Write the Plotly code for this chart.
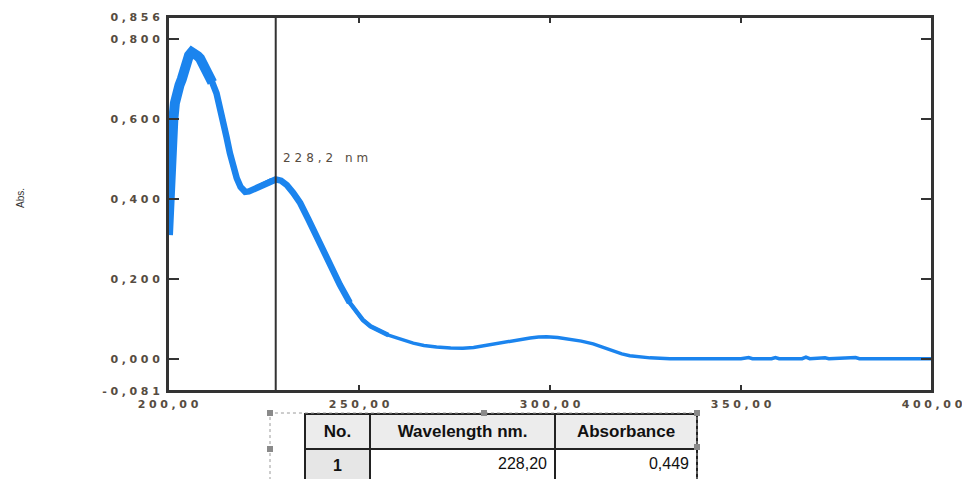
import plotly.graph_objects as go

# UV-Vis absorbance spectrum (wavelength in nm, absorbance)
wavelength = [200.0, 200.3, 200.6, 201.0, 201.4, 201.8, 202.3, 203.0, 203.6, 204.3,
              204.9, 205.5, 206.2, 207.0, 207.8, 208.4, 209.5, 210.6, 211.6, 212.7,
              213.6, 214.4, 215.3, 216.2, 217.1, 218.0, 219.0, 220.2, 221.2, 222.3,
              223.8, 225.4, 226.8, 228.2, 229.6, 231.1, 232.8, 234.6, 236.7, 238.9,
              241.0, 243.2, 245.0, 247.6, 249.3, 251.0, 253.0, 255.5, 257.7, 259.9,
              262.0, 264.2, 267.0, 270.3, 274.0, 277.2, 280.0, 282.5, 285.5, 288.7,
              291.7, 294.8, 297.0, 299.1, 302.0, 305.2, 308.2, 311.3, 314.0, 316.6,
              318.8, 320.9, 323.5, 326.2, 331.4, 340.0, 350.0, 352.0, 353.0, 358.0,
              359.0, 360.0, 366.0, 367.0, 368.0, 372.0, 373.0, 380.0, 381.0, 400.0]
absorbance = [0.310, 0.400, 0.500, 0.550, 0.600, 0.640, 0.670, 0.685, 0.700, 0.725,
              0.745, 0.760, 0.768, 0.765, 0.758, 0.752, 0.735, 0.715, 0.692, 0.665,
              0.632, 0.598, 0.556, 0.515, 0.480, 0.452, 0.430, 0.418, 0.419, 0.424,
              0.432, 0.440, 0.446, 0.449, 0.446, 0.435, 0.415, 0.390, 0.350, 0.306,
              0.262, 0.222, 0.185, 0.140, 0.118, 0.097, 0.081, 0.068, 0.059, 0.052,
              0.045, 0.039, 0.033, 0.029, 0.027, 0.026, 0.028, 0.032, 0.037, 0.043,
              0.048, 0.052, 0.054, 0.055, 0.053, 0.049, 0.044, 0.037, 0.028, 0.018,
              0.012, 0.0075, 0.004, 0.002, 0.000, 0.000, 0.000, 0.003, 0.000, 0.000,
              0.003, 0.000, 0.000, 0.004, 0.000, 0.002, 0.000, 0.003, 0.000, 0.000]

# Peak pick result
peak_nm = 228.2
peak_label = "228,2 nm"
table_header = ["No.", "Wavelength nm.", "Absorbance"]
table_row = ["1", "228,20", "0,449"]

# Axis ticks
x_ticks = [200, 250, 300, 350, 400]
x_ticktext = ["200,00", "250,00", "300,00", "350,00", "400,00"]
y_min, y_max = -0.081, 0.856
y_ticks = [-0.081, 0.0, 0.2, 0.4, 0.6, 0.8, 0.856]
y_ticktext = ["-0,081", "0,000", "0,200", "0,400", "0,600", "0,800", "0,856"]

W, H = 962, 479
PL, PR, PT, PB = 168, 932, 17, 391  # plot box in pixels


def px_x(p):
    return p / W


def px_y(p):
    return 1 - p / H


def spaced(s):
    return "\u2004".join(s)


BLUE = "#1b84ee"
LABEL_COLOR = "#564c41"
AXIS_COLOR = "#333333"
TICK_FONT = dict(family="DejaVu Sans", size=11, color=LABEL_COLOR, weight="bold")

fig = go.Figure()

# Base spectrum line
fig.add_trace(go.Scatter(x=wavelength, y=absorbance, mode="lines",
                         line=dict(color=BLUE, width=3.5), hoverinfo="skip",
                         showlegend=False))

# Noisy low-wavelength part drawn progressively heavier
for upto, lw in [(256, 4.5), (246, 6.5), (211, 10)]:
    n = next(i for i, w in enumerate(wavelength) if w >= upto)
    fig.add_trace(go.Scatter(x=wavelength[:n + 1], y=absorbance[:n + 1], mode="lines",
                             line=dict(color=BLUE, width=lw), hoverinfo="skip",
                             showlegend=False))

# Result table
fig.add_trace(go.Table(
    domain=dict(x=[px_x(305), px_x(697)], y=[0, px_y(414)]),
    columnwidth=[65, 185, 142],
    header=dict(values=["<b>%s</b>" % h for h in table_header],
                fill_color="#ececec", align="center",
                line=dict(color="#222222", width=2), height=33,
                font=dict(family="Liberation Sans", size=17, color="#111111")),
    cells=dict(values=[["<b>%s</b>" % table_row[0]], [table_row[1]], [table_row[2]]],
               fill_color=[["#e6e6e6"], ["white"], ["white"]],
               align=["center", "right", "right"],
               line=dict(color="#222222", width=2), height=29,
               font=dict(family="Liberation Sans", size=16, color="#111111")),
))

shapes = [
    # plot frame
    dict(type="rect", xref="x domain", yref="y domain", x0=0, x1=1, y0=0, y1=1,
         line=dict(color=AXIS_COLOR, width=2), layer="above"),
    # peak marker line
    dict(type="line", xref="x", yref="y domain", x0=peak_nm, x1=peak_nm, y0=0, y1=1,
         line=dict(color=AXIS_COLOR, width=2)),
    # dashed selection frame around the table
    dict(type="rect", xref="paper", yref="paper", x0=px_x(270), x1=px_x(697),
         y0=-0.05, y1=px_y(413), line=dict(color="#9a9a9a", width=1, dash="dot")),
]
for hx, hy in [(270, 413), (484, 413), (697, 413), (270, 449), (697, 447)]:
    shapes.append(dict(type="rect", xref="paper", yref="paper",
                       x0=px_x(hx - 3), x1=px_x(hx + 3), y0=px_y(hy + 3), y1=px_y(hy - 3),
                       fillcolor="#8a8a8a", line=dict(width=0)))

axis_common = dict(showgrid=False, zeroline=False, showline=True, linecolor=AXIS_COLOR,
                   linewidth=2, mirror="allticks", ticks="inside", tickcolor=AXIS_COLOR,
                   tickwidth=1.5, tickfont=TICK_FONT, automargin=False,
                   ticklabeloverflow="allow")

fig.update_layout(
    template="none",
    width=W, height=H,
    margin=dict(l=0, r=0, t=0, b=0, pad=0),
    paper_bgcolor="white", plot_bgcolor="white",
    showlegend=False,
    xaxis=dict(domain=[px_x(PL), px_x(PR)], range=[200, 400], tickvals=x_ticks,
               ticktext=[spaced(t) for t in x_ticktext], ticklen=6,
               ticklabelstandoff=2, **axis_common),
    yaxis=dict(domain=[px_y(PB), px_y(PT)], range=[y_min, y_max], tickvals=y_ticks,
               ticktext=[spaced(t) for t in y_ticktext], ticklen=11,
               ticklabelstandoff=4, **axis_common),
    shapes=shapes,
    annotations=[
        dict(text=spaced(peak_label), x=peak_nm + 1.4, y=0.5025, xref="x", yref="y",
             xanchor="left", yanchor="middle", showarrow=False,
             font=dict(family="DejaVu Sans", size=12, color=LABEL_COLOR)),
        dict(text="Abs.", x=px_x(20), y=px_y(198), xref="paper", yref="paper",
             textangle=-90, showarrow=False, xanchor="center", yanchor="middle",
             font=dict(family="Liberation Sans Narrow, Liberation Sans", size=10,
                       color="#333333")),
    ],
)

fig.write_html("out.html")
